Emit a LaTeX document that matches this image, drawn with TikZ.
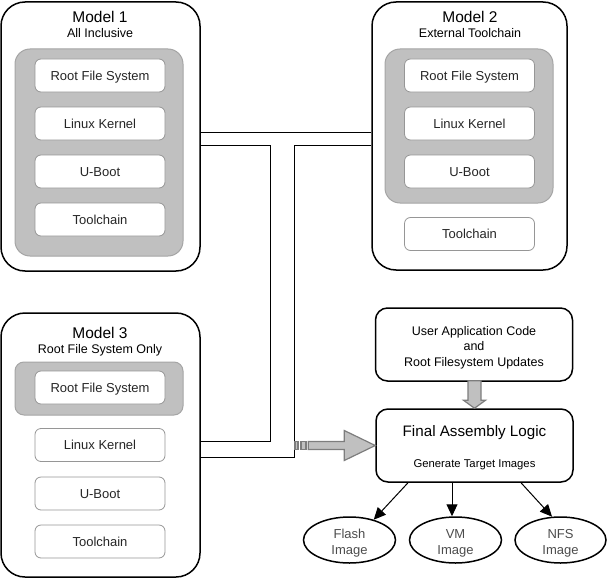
\documentclass[tikz,border=0pt]{standalone}
\usepackage{fontspec}
\setmainfont{Liberation Sans}
\usetikzlibrary{shapes.geometric, arrows.meta, positioning}
\definecolor{panelgray}{RGB}{192,192,192}
\definecolor{paneledge}{RGB}{165,165,165}
\definecolor{partedge}{RGB}{150,150,150}
\definecolor{arrowedge}{RGB}{125,125,125}

\begin{document}
\begin{tikzpicture}[x=1pt, y=-1pt,
    modelbox/.style={draw, line width=1.5pt, rounded corners=24pt, inner sep=0pt},
    panelbox/.style={draw=paneledge, fill=panelgray, line width=1pt, minimum width=168pt, inner sep=0pt},
    partbox/.style={draw=partedge, fill=white, line width=0.8pt, rounded corners=6pt, minimum width=130pt, minimum height=33pt, inner sep=0pt, text height=9.5pt, text depth=0pt, text=black!85, font=\fontsize{13}{15}\selectfont},
    titletext/.style={font=\fontsize{15.5}{18}\selectfont},
    subtext/.style={font=\fontsize{12.5}{15}\selectfont},
    stagebox/.style={draw, line width=1.5pt, rounded corners=12pt, minimum width=197pt, minimum height=73pt, inner sep=0pt},
    imgoval/.style={ellipse, draw, line width=1.5pt, minimum width=92pt, minimum height=46pt, inner sep=0pt},
    imgtext/.style={align=center, inner sep=0pt, text=black!70, font=\fontsize{13}{16}\selectfont},
    linkline/.style={line width=0.9pt},
    blockarrow/.style={draw=arrowedge, fill=panelgray, line width=1.2pt, line join=miter},
    imgarrow/.style={-{Triangle[length=12pt, width=11pt]}, line width=1pt}]
    \useasboundingbox (0,0) rectangle (607,578);

    % Model 1
    \node[modelbox, minimum width=199pt, minimum height=269pt] at (100.5,136.5) (m1) {};
    \node[titletext] at (100,17) (m1title) {Model 1};
    \node[subtext] at (100,33) (m1sub) {All Inclusive};
    \node[panelbox, rounded corners=15pt, minimum height=207pt] at (99,152.5) (m1panel) {};
    \node[partbox] at (100,75.5) (m1rfs) {Root File System};
    \node[partbox] at (100,123.5) (m1kernel) {Linux Kernel};
    \node[partbox] at (100,171.5) (m1boot) {U-Boot};
    \node[partbox] at (100,219.5) (m1tools) {Toolchain};

    % Model 2
    \node[modelbox, minimum width=195pt, minimum height=268pt] at (469.5,136) (m2) {};
    \node[titletext] at (470,17) (m2title) {Model 2};
    \node[subtext] at (470,33) (m2sub) {External Toolchain};
    \node[panelbox, rounded corners=15pt, minimum height=154pt] at (469,126) (m2panel) {};
    \node[partbox] at (469.5,75.5) (m2rfs) {Root File System};
    \node[partbox] at (469.5,123.5) (m2kernel) {Linux Kernel};
    \node[partbox] at (469.5,171.5) (m2boot) {U-Boot};
    \node[partbox] at (469.5,234) (m2tools) {Toolchain};

    % Model 3
    \node[modelbox, minimum width=199pt, minimum height=264pt] at (100.5,445) (m3) {};
    \node[titletext] at (100,333) (m3title) {Model 3};
    \node[subtext] at (100,350.5) (m3sub) {Root File System Only};
    \node[panelbox, rounded corners=9pt, minimum height=53pt] at (99,388.5) (m3panel) {};
    \node[partbox] at (100,387.5) (m3rfs) {Root File System};
    \node[partbox] at (100,445) (m3kernel) {Linux Kernel};
    \node[partbox] at (100,493.5) (m3boot) {U-Boot};
    \node[partbox] at (100,541.5) (m3tools) {Toolchain};

    % Bus lines
    \coordinate (topbus) at (0,132);
    \coordinate (busa) at (270,145);
    \coordinate (busaend) at (270,441);
    \coordinate (busb) at (294,145);
    \coordinate (busbend) at (294,457);
    \draw[linkline] (m1.east |- topbus) -- (m2.west |- topbus);
    \draw[linkline] (m1.east |- busa) -- (busa) -- (busaend) -- (m3.east |- busaend);
    \draw[linkline] (m2.west |- busb) -- (busb) -- (busbend) -- (m3.east |- busbend);

    % Assembly
    \node[stagebox] at (474,344.5) (usr) {};
    \node[align=center, font=\fontsize{12.5}{15.5}\selectfont] at (474,347.5) (usrtext) {User Application Code\\and\\Root Filesystem Updates};
    \node[stagebox] at (474.5,445.5) (fin) {};
    \node[font=\fontsize{15.2}{18}\selectfont] at (474.5,433) (fintitle) {Final Assembly Logic};
    \node[font=\fontsize{11.3}{14}\selectfont] at (474.5,464.5) (finsub) {Generate Target Images};

    % Gray block arrows
    \draw[blockarrow] (fin.west) -- ++(-31,-15) -- ++(0,11) -- ++(-36,0) -- ++(0,8) -- ++(36,0) -- ++(0,11) -- cycle;
    \draw[blockarrow] (295,441.5) rectangle ++(3,8);
    \draw[blockarrow] (301,441.5) rectangle ++(5,8);
    \draw[blockarrow] (fin.north) -- ++(-11,-8) -- ++(4.5,0) -- ++(0,-19.5) -- ++(13,0) -- ++(0,19.5) -- ++(4.5,0) -- cycle;

    % Images
    \node[imgoval] at (349.5,540) (flash) {};
    \node[imgoval] at (455.5,540) (vm) {};
    \node[imgoval, minimum width=91pt] at (560.5,540) (nfs) {};
    \node[imgtext] at ([yshift=-3pt]flash.center) (flashtext) {Flash\\Image};
    \node[imgtext] at ([yshift=-3pt]vm.center) (vmtext) {VM\\Image};
    \node[imgtext] at ([yshift=-3pt]nfs.center) (nfstext) {NFS\\Image};
    \coordinate (flashfrom) at ([xshift=-66.5pt]fin.south);
    \coordinate (vmfrom) at ([xshift=-22.5pt]fin.south);
    \coordinate (nfsfrom) at ([xshift=46.5pt]fin.south);
    \draw[imgarrow] (flashfrom) -- (flash.40);
    \draw[imgarrow] (vmfrom) -- (vmfrom |- vm.north);
    \draw[imgarrow] (nfsfrom) -- (nfs.110);
\end{tikzpicture}
\end{document}
